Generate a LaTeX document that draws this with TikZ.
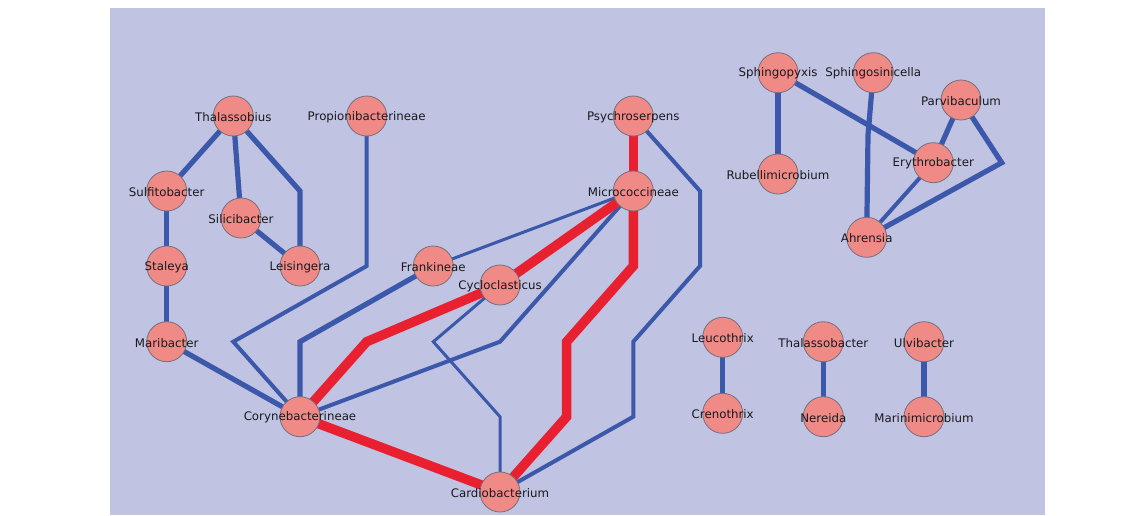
\documentclass[tikz,border=0pt]{standalone}
\usepackage{fontspec}
\setmainfont{DejaVu Sans}
\definecolor{bgcol}{RGB}{192,195,226}
\definecolor{nodefill}{RGB}{240,138,135}
\definecolor{nodeedge}{RGB}{115,112,125}
\definecolor{edgeblue}{RGB}{60,88,170}
\definecolor{edgered}{RGB}{232,32,48}
\definecolor{labeltext}{RGB}{25,25,30}
\pgfdeclarelayer{bglayer}
\pgfdeclarelayer{edgelayer}
\pgfsetlayers{bglayer,edgelayer,main}
\begin{document}
\begin{tikzpicture}[x=1pt,y=-1pt,
  taxon/.style={circle, draw=nodeedge, line width=0.8pt, fill=nodefill, minimum size=40pt, inner sep=0pt},
  lbl/.style={font=\fontsize{11.8}{12}\selectfont, text=labeltext, inner sep=0pt, yshift=-1pt},
  blthick/.style={draw=edgeblue, line width=5.2pt},
  blmed/.style={draw=edgeblue, line width=4pt},
  blthin/.style={draw=edgeblue, line width=3pt},
  redge/.style={draw=edgered, line width=9.5pt}]
\useasboundingbox (0,0) rectangle (1142,515);
\begin{pgfonlayer}{bglayer}
  \fill[bgcol] (110,7.5) rectangle (1045,515);
\end{pgfonlayer}
% nodes
\node[taxon, label={[lbl]center:Thalassobius}] (thal) at (233.3,116) {};
\node[taxon, label={[lbl]center:Propionibacterineae}] (prop) at (366.7,116) {};
\node[taxon, label={[lbl]center:Sulfitobacter}] (sulf) at (166.7,191) {};
\node[taxon, label={[lbl]center:Silicibacter}] (sili) at (241,218) {};
\node[taxon, label={[lbl]center:Leisingera}] (leis) at (300,266) {};
\node[taxon, label={[lbl]center:Staleya}] (stal) at (166.7,266) {};
\node[taxon, label={[lbl]center:Maribacter}] (mari) at (166.7,341.7) {};
\node[taxon, label={[lbl]center:Corynebacterineae}] (cory) at (300,416.7) {};
\node[taxon, label={[lbl]center:Frankineae}] (fran) at (433.3,266) {};
\node[taxon, label={[lbl]center:Cycloclasticus}] (cycl) at (500,285) {};
\node[taxon, label={[lbl]center:Psychroserpens}] (psyc) at (633.3,116) {};
\node[taxon, label={[lbl]center:Micrococcineae}] (micr) at (633.3,191) {};
\node[taxon, label={[lbl]center:Cardiobacterium}] (card) at (500,492) {};
\node[taxon, label={[lbl]center:Sphingopyxis}] (sphp) at (778,72.7) {};
\node[taxon, label={[lbl]center:Sphingosinicella}] (sphs) at (873.3,72.7) {};
\node[taxon, label={[lbl]center:Parvibaculum}] (parv) at (961,100) {};
\node[taxon, label={[lbl]center:Erythrobacter}] (eryt) at (933.3,162.7) {};
\node[taxon, label={[lbl]center:Rubellimicrobium}] (rube) at (778,174) {};
\node[taxon, label={[lbl]center:Ahrensia}] (ahre) at (866.7,237.3) {};
\node[taxon, label={[lbl]center:Leucothrix}] (leuc) at (722.7,337.3) {};
\node[taxon, label={[lbl]center:Crenothrix}] (cren) at (722.7,413.3) {};
\node[taxon, label={[lbl]center:Thalassobacter}] (thab) at (823.3,341.7) {};
\node[taxon, label={[lbl]center:Nereida}] (nere) at (823.3,416.7) {};
\node[taxon, label={[lbl]center:Ulvibacter}] (ulvi) at (924,341.7) {};
\node[taxon, label={[lbl]center:Marinimicrobium}] (mrmi) at (924,416.7) {};
% edges
\begin{pgfonlayer}{edgelayer}
  \draw[blthick] (thal.center) -- (sulf.center);
  \draw[blthick] (thal.center) -- (sili.center);
  \draw[blthick] (thal.center) -- (300,191) -- (leis.center);
  \draw[blthick] (sili.center) -- (leis.center);
  \draw[blthick] (sulf.center) -- (stal.center);
  \draw[blthick] (stal.center) -- (mari.center);
  \draw[blthick] (mari.center) -- (cory.center);
  \draw[blthick] (fran.center) -- (300,341.7) -- (cory.center);
  \draw[blmed] (prop.center) -- (366.7,266) -- (233.3,341.7) -- (cory.center);
  \draw[blmed] (micr.center) -- (500,341.7) -- (cory.center);
  \draw[blmed] (psyc.center) -- (700,191) -- (700,266) -- (633.3,341.7) -- (633.3,416.7) -- (card.center);
  \draw[blthin] (micr.center) -- (fran.center);
  \draw[blthin] (cycl.center) -- (433.3,341.7) -- (500,416.7) -- (card.center);
  \draw[redge] (psyc.center) -- (micr.center);
  \draw[redge] (micr.center) -- (cycl.center);
  \draw[redge] (cycl.center) -- (366.7,341.7) -- (cory.center);
  \draw[redge] (cory.center) -- (card.center);
  \draw[redge] (micr.center) -- (633.3,266) -- (566.7,341.7) -- (566.7,416.7) -- (card.center);
  % right cluster
  \draw[blthick] (sphp.center) -- (rube.center);
  \draw[blthick] (sphp.center) -- (eryt.center);
  \draw[blthick] (sphs.center) -- (868,135) -- (ahre.center);
  \draw[blthick] (parv.center) -- (eryt.center);
  \draw[blthick] (parv.center) -- (1001.7,162.7) -- (ahre.center);
  \draw[blmed] (eryt.center) -- (ahre.center);
  \draw[blthick] (leuc.center) -- (cren.center);
  \draw[blthick] (thab.center) -- (nere.center);
  \draw[blthick] (ulvi.center) -- (mrmi.center);
\end{pgfonlayer}
\end{tikzpicture}
\end{document}
